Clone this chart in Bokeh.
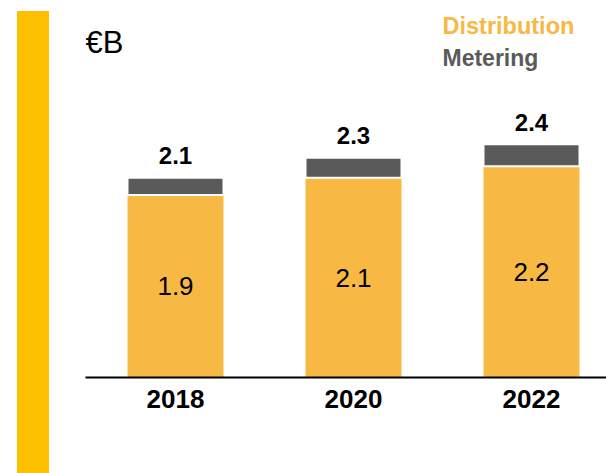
from bokeh.plotting import figure
from bokeh.models import ColumnDataSource, Range1d, FixedTicker, Label, Div
from bokeh.layouts import row
from bokeh.core.properties import value
from bokeh.embed import file_html
from bokeh.resources import INLINE

# ---- data ----
years = [2018, 2020, 2022]
year_labels = ["2018", "2020", "2022"]
distribution = [1.9, 2.08, 2.2]
metering = [0.18, 0.21, 0.23]
dist_labels = ["1.9", "2.1", "2.2"]
total_labels = ["2.1", "2.3", "2.4"]

ORANGE = "#F7B944"
GRAY = "#5A5A5A"
YELLOW = "#FFC000"
FONT = "Liberation Sans"

totals = [d + m for d, m in zip(distribution, metering)]
src = ColumnDataSource(dict(
    x=years, dist=distribution, met=metering, top=totals,
    half=[d / 2 for d in distribution],
    dlab=dist_labels, tlab=total_labels,
))

# ---- left decorative strip ----
strip = Div(text="", width=32, height=462, margin=(11, 0, 0, 17),
            styles={"background-color": YELLOW})

# ---- main chart ----
W, H = 557, 473
px_per_year = 89.0
frame_w = W - 36
x0 = 2018 - 90 / px_per_year
p = figure(width=W, height=H, output_backend="svg", toolbar_location=None,
           x_range=Range1d(x0, x0 + frame_w / px_per_year),
           y_range=Range1d(0, 377 / 96.0),
           y_axis_location=None,
           min_border_left=36, min_border_right=0, min_border_top=0, min_border_bottom=96,
           outline_line_color=None, background_fill_color="white", border_fill_color="white")
p.grid.visible = False

bw = 96 / px_per_year
p.vbar(x="x", bottom=0, top="dist", width=bw, source=src,
       fill_color=ORANGE, line_color=None)
p.vbar(x="x", bottom="dist", top="top", width=bw, source=src,
       fill_color=GRAY, line_color="white", line_width=2)

p.text(x="x", y="half", text="dlab", source=src, text_align="center",
       text_baseline="middle", text_font=value(FONT), text_font_size="26px",
       text_color="black")
p.text(x="x", y="top", text="tlab", source=src, text_align="center",
       text_baseline="alphabetic", y_offset=-22, text_font=value(FONT),
       text_font_size="24px", text_font_style="bold", text_color="black")

ax = p.xaxis[0]
ax.ticker = FixedTicker(ticks=years)
ax.major_label_overrides = {y: l for y, l in zip(years, year_labels)}
ax.axis_line_width = 2
ax.axis_line_color = "black"
ax.major_tick_line_color = None
ax.minor_tick_line_color = None
ax.major_label_standoff = 6
ax.major_label_text_font = FONT
ax.major_label_text_font_size = "26px"
ax.major_label_text_font_style = "bold"
ax.major_label_text_color = "black"

p.add_layout(Label(x=0, y=335, x_units="screen", y_units="screen", text="€B",
                   text_font=FONT, text_font_size="31px", text_color="black",
                   text_baseline="alphabetic"))
p.add_layout(Label(x=357, y=352, x_units="screen", y_units="screen", text="Distribution",
                   text_font=FONT, text_font_size="23.5px", text_font_style="bold",
                   text_color=ORANGE, text_baseline="alphabetic"))
p.add_layout(Label(x=357, y=320, x_units="screen", y_units="screen", text="Metering",
                   text_font=FONT, text_font_size="23px", text_font_style="bold",
                   text_color=GRAY, text_baseline="alphabetic"))

layout = row(strip, p, spacing=0)
open("out.html", "w").write(file_html(layout, INLINE))
